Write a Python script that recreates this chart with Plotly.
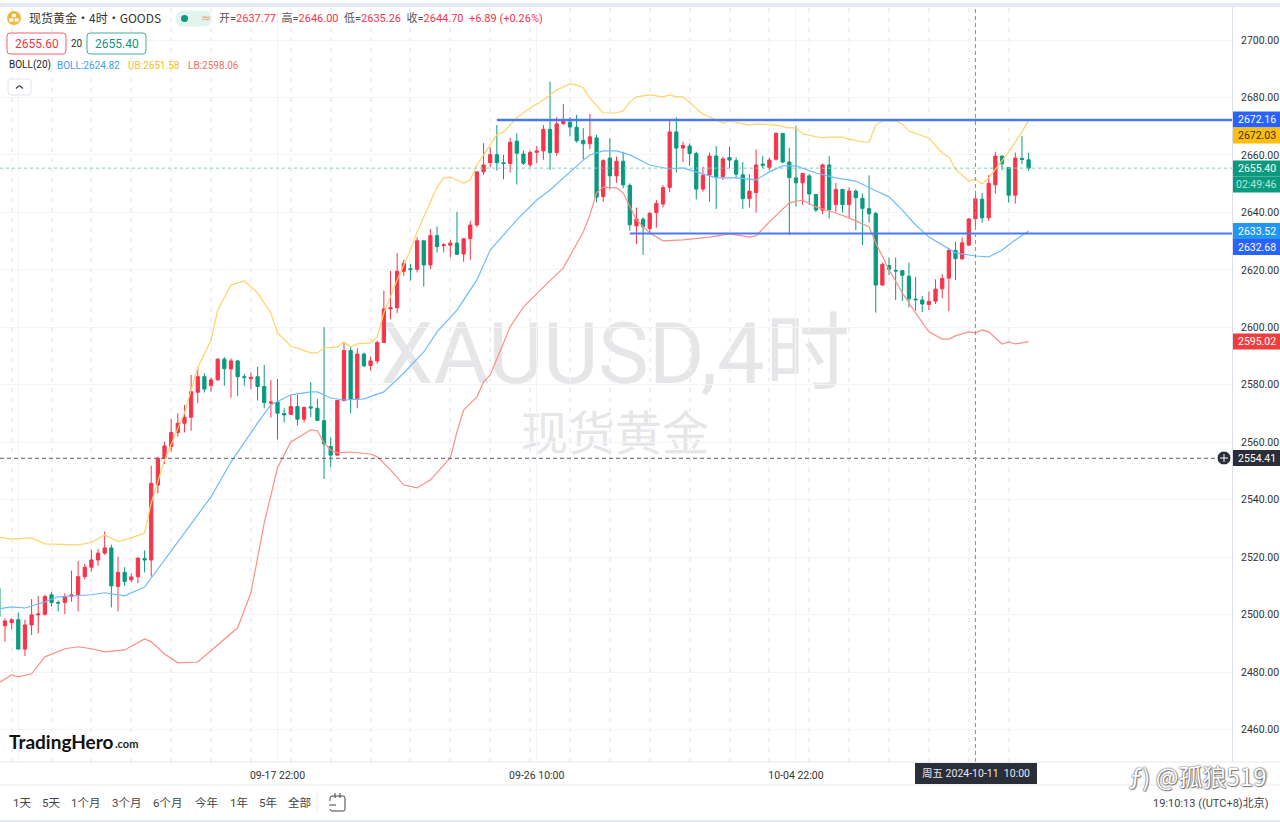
import plotly.graph_objects as go

# XAUUSD 4h candles, oldest first
opens = [2509.2, 2496.1, 2497.2, 2498.2, 2488, 2496.4, 2499.9, 2500.1, 2506.9, 2504.2,
         2504.2, 2506.3, 2506.9, 2513.2, 2516.5, 2519, 2521.4, 2523.2, 2509.8, 2514.7,
         2512.1, 2513.2, 2519.5, 2519, 2545.1, 2554.4, 2558.5, 2563.4, 2566.6, 2568.7,
         2577.4, 2582.8, 2579.7, 2581.7, 2588.9, 2585.5, 2588.3, 2582.8, 2582.1, 2582.8,
         2579.4, 2573.6, 2574, 2570, 2569.7, 2572.4, 2568, 2572.3, 2571.8, 2567.5,
         2558.5, 2555.5, 2574.5, 2591.9, 2575, 2590.7, 2586.7, 2588.3, 2594.7, 2606.4,
         2606.8, 2619.5, 2620.4, 2620.2, 2630.1, 2621.7, 2631.9, 2628.4, 2628.6, 2629.3,
         2625.5, 2630.8, 2635.6, 2654.1, 2657.3, 2660.1, 2657.3, 2657, 2664.8, 2660.3,
         2656.6, 2660.9, 2661.4, 2668.9, 2660.8, 2670.9, 2671.4, 2669.6, 2665, 2663.9,
         2665.9, 2645.5, 2658.9, 2652.7, 2657.8, 2649.4, 2635.3, 2637.6, 2634.4, 2639.9,
         2642.9, 2648.7, 2668, 2662.4, 2663.1, 2660.5, 2648.1, 2653, 2659.6, 2652.4,
         2659.1, 2658, 2653.1, 2644.8, 2646.9, 2656.8, 2655.6, 2658.5, 2667.5, 2657.5,
         2652, 2650.3, 2652.7, 2646.2, 2640.8, 2656.5, 2642.7, 2648, 2642.7, 2647.4,
         2644.9, 2641.3, 2639.6, 2614.7, 2621.5, 2619.8, 2619.7, 2617.8, 2609.8, 2609.5,
         2607.9, 2609.1, 2613.4, 2617.1, 2626.8, 2623.8, 2628.6, 2637.77, 2644.6, 2638.1,
         2649.6, 2659.6, 2655.6, 2646, 2658.8, 2658.3]
highs = [2512, 2498.7, 2498.7, 2500.7, 2498.2, 2505.4, 2506.5, 2506.9, 2507.8, 2504.9,
         2507.4, 2515.3, 2518.7, 2517.6, 2522.5, 2522.8, 2528.9, 2524.4, 2520.2, 2516.5,
         2514.4, 2520, 2522.3, 2551.8, 2555, 2560.2, 2568.1, 2570.1, 2573, 2583.4,
         2586.1, 2584, 2582.6, 2589.2, 2589.6, 2589.2, 2588.6, 2583.8, 2584.3, 2586.3,
         2586.9, 2581.7, 2582, 2571.8, 2576.5, 2576.5, 2572.4, 2580.9, 2575.1, 2600,
         2561.7, 2574.7, 2594.9, 2593.3, 2592.7, 2591.2, 2589.8, 2595.4, 2612.8, 2619.6,
         2625.8, 2623.5, 2622.1, 2631.3, 2630.2, 2634.2, 2635.1, 2629.3, 2630.4, 2640.2,
         2631, 2637.1, 2654.2, 2664.1, 2662.6, 2670.4, 2660, 2666, 2667.5, 2661.5,
         2661.5, 2663.1, 2670.4, 2685.5, 2673.1, 2677.7, 2673.1, 2673.9, 2669.3, 2674.3,
         2667, 2658.5, 2665.8, 2659.4, 2661.1, 2650.1, 2641.7, 2638.3, 2640, 2644.3,
         2649.5, 2671.9, 2673.1, 2664.6, 2664, 2661.1, 2655.9, 2660.8, 2663.1, 2659.4,
         2662.9, 2659.1, 2657.5, 2653.3, 2661.9, 2659.6, 2659.1, 2667.8, 2667.6, 2662.5,
         2670.1, 2653.8, 2653.3, 2646.4, 2657, 2659.6, 2650.3, 2648.1, 2648.7, 2648,
         2646.6, 2652.9, 2640.2, 2622.5, 2624.3, 2624.3, 2619.9, 2622.5, 2617.6, 2610.9,
         2612.4, 2616.7, 2618.5, 2627.5, 2629.8, 2631.3, 2638, 2646, 2646.8, 2653,
         2661.1, 2659.7, 2655.7, 2660.8, 2666.6, 2660.8]
lows = [2495, 2490.6, 2494.9, 2487.7, 2485.6, 2492.9, 2493.5, 2499.6, 2502.8, 2501.1,
        2500.2, 2504.5, 2501.1, 2512.3, 2515, 2517, 2520.8, 2502.5, 2501.1, 2510,
        2511.2, 2510.9, 2514.7, 2513.2, 2542.2, 2552.4, 2556.7, 2562, 2563.4, 2564,
        2573.6, 2577.3, 2577.6, 2581.4, 2579.7, 2575.5, 2576.1, 2579.7, 2578.5, 2574.5,
        2571.8, 2568.6, 2561, 2566.9, 2569.6, 2565.8, 2566.8, 2568.7, 2567.4, 2547.2,
        2551.3, 2555.4, 2574.2, 2570.1, 2571.8, 2586.1, 2584.9, 2587.3, 2594.5, 2602.8,
        2604.9, 2617.9, 2616.3, 2619.1, 2614.2, 2620.2, 2626, 2626, 2624.3, 2625.2,
        2622.8, 2623.5, 2634.8, 2653, 2655.7, 2654.5, 2651.5, 2653.9, 2649.7, 2656.5,
        2655.7, 2657.1, 2658.3, 2654.8, 2659.7, 2670.4, 2666.4, 2664.3, 2658.5, 2662,
        2643.4, 2643.7, 2648, 2650.3, 2648.4, 2633.6, 2629, 2625.2, 2632.4, 2634.7,
        2641.7, 2647, 2653.8, 2657.5, 2656.2, 2644.5, 2647.2, 2643.7, 2641.2, 2651.3,
        2655.3, 2651.8, 2641.2, 2641.7, 2639.9, 2655.3, 2654.7, 2658, 2657.1, 2632.1,
        2642, 2642.6, 2642.6, 2640.1, 2639.4, 2637.9, 2640.2, 2639.9, 2637.9, 2633.8,
        2628.6, 2636.4, 2605.1, 2614.4, 2618.2, 2609.5, 2609.2, 2606.9, 2605.8, 2605.3,
        2606, 2608.1, 2610.1, 2605.6, 2616.4, 2623.6, 2628.3, 2635.26, 2636.4, 2637,
        2646.6, 2654.7, 2643.4, 2643.1, 2656.8, 2654.5]
closes = [2499.3, 2497.8, 2498.2, 2488, 2496.4, 2499.9, 2500.2, 2506.3, 2504.2, 2504,
          2506.3, 2506.9, 2513.2, 2516.5, 2519, 2521.4, 2523.2, 2510, 2514.7, 2511.5,
          2513.1, 2519.6, 2519, 2545.7, 2554.4, 2558.7, 2563.4, 2566.6, 2568.7, 2577.6,
          2582.8, 2578.5, 2581.7, 2588.9, 2585.6, 2588.3, 2582.8, 2582.5, 2582.6, 2579.4,
          2573.8, 2574, 2570.1, 2569.5, 2572.4, 2568, 2572.1, 2571.9, 2567.6, 2559.4,
          2555.5, 2574.5, 2591.9, 2575, 2590.7, 2586.6, 2588.3, 2594.7, 2606.4, 2606.8,
          2619.5, 2622.3, 2620.1, 2630.1, 2621.7, 2631.9, 2628.1, 2628.7, 2629.3, 2625.4,
          2630.8, 2635.6, 2654.1, 2656.5, 2660.1, 2657.3, 2657, 2664.4, 2660.6, 2657.1,
          2660.8, 2661.4, 2668.9, 2660.8, 2670.8, 2672.2, 2669.7, 2664.9, 2663.9, 2666.3,
          2645.3, 2658, 2652.7, 2657.8, 2649.6, 2635.7, 2637.7, 2635, 2639.7, 2643.1,
          2648.6, 2668, 2662.4, 2663.3, 2660.5, 2648.1, 2652.9, 2659.6, 2652.4, 2658.6,
          2658.2, 2653.3, 2644.8, 2647.4, 2656.5, 2656.4, 2658.2, 2667.5, 2657.5, 2652.1,
          2650.3, 2653.5, 2646.4, 2640.8, 2656.5, 2641, 2648, 2642.7, 2647.4, 2645.1,
          2641.4, 2639.5, 2614.7, 2621.9, 2620.2, 2619.6, 2618.1, 2609.9, 2609.6, 2608.1,
          2609, 2613.3, 2617, 2626.8, 2623.9, 2629.4, 2637.7, 2644.7, 2638.1, 2650.1,
          2659.6, 2656.9, 2646, 2658.9, 2658.4, 2655.4]

# Bollinger lines: candle number / price pairs where the line changes direction
ub_idx = [0, 2, 5, 7, 12, 14, 16, 18, 20, 22, 23, 25, 28, 30, 32, 33, 35, 37, 39, 41, 42, 44, 47, 48, 49,
          51, 52, 53, 54, 56, 57, 58, 60, 62, 63, 64, 66, 67, 68, 70, 71, 72, 74, 75, 76, 78, 80, 82, 84, 86,
          87, 88, 89, 91, 93, 94, 95, 96, 98, 100, 101, 102, 103, 104, 106, 107, 109, 110, 113, 114, 117, 119,
          120, 121, 124, 125, 127, 128, 130, 131, 132, 133, 135, 136, 137, 140, 142, 143, 144, 146, 147, 148,
          149, 152, 154, 155]
ub_val = [2527, 2526.3, 2526.7, 2524.6, 2524.3, 2525.1, 2527.7, 2525.4, 2526.7, 2528.4, 2538.9, 2553.8, 2570.2,
          2585.9, 2595.6, 2606, 2614.7, 2616.1, 2612, 2605, 2598, 2593.5, 2591.1, 2591.1, 2592.8, 2593.2, 2594.9,
          2593.2, 2594.2, 2594.6, 2596.6, 2605, 2616.5, 2626.9, 2633.2, 2638.4, 2648.8, 2652, 2652.3, 2650.2,
          2651.3, 2656.5, 2663.5, 2667, 2668, 2672.9, 2676.3, 2679.1, 2682.6, 2684.7, 2684.3, 2683.3, 2679.8,
          2674.6, 2674.6, 2675.3, 2678.4, 2680.2, 2680.9, 2680.2, 2680.9, 2680.2, 2680.2, 2678.1, 2674.2, 2673.2,
          2671.1, 2671.8, 2670.4, 2670.8, 2670.4, 2669.4, 2669.4, 2667.3, 2665.9, 2666.2, 2666.2, 2665.5, 2664.5,
          2664.5, 2670.4, 2671.8, 2671.8, 2670.8, 2668.3, 2665.9, 2660.7, 2659.3, 2655.1, 2650.9, 2651.58, 2649.9,
          2652, 2661, 2668, 2672.03]
mid_idx = [0, 2, 4, 7, 9, 12, 14, 16, 19, 22, 25, 28, 32, 35, 39, 41, 44, 47, 48, 50, 52, 55, 58, 61, 64, 66, 69,
           72, 74, 78, 81, 83, 86, 88, 89, 91, 93, 95, 98, 101, 103, 105, 108, 111, 114, 116, 118, 120, 123, 126,
           129, 132, 134, 136, 138, 140, 142, 144, 147, 149, 151, 153, 155]
mid_val = [2502, 2502.7, 2502.3, 2504.4, 2506.2, 2506.5, 2506.9, 2507.6, 2506.5, 2509.6, 2519, 2528.4, 2541, 2553.1,
           2566.7, 2573, 2576.5, 2577.5, 2577.5, 2575.4, 2574.7, 2575.1, 2577.5, 2584.1, 2591.4, 2598.4, 2606, 2616.5,
           2626.9, 2637.4, 2644.3, 2647.8, 2654.1, 2658.2, 2660, 2661.4, 2661.4, 2660, 2656.5, 2655.1, 2655.5, 2654.1,
           2652, 2652, 2651.3, 2654.1, 2656.2, 2656.2, 2653.7, 2652, 2650.9, 2647.5, 2645.4, 2640.8, 2635.6, 2631.4,
           2628.7, 2625.9, 2624.82, 2624.5, 2626.9, 2630.4, 2633.52]
lb_idx = [0, 2, 3, 5, 7, 10, 12, 14, 16, 19, 22, 23, 25, 27, 30, 32, 34, 36, 38, 40, 42, 44, 47, 48, 49, 50, 51, 53,
          56, 57, 59, 61, 63, 65, 68, 69, 70, 72, 73, 74, 77, 79, 82, 85, 88, 89, 90, 91, 93, 94, 96, 98, 100, 103,
          107, 110, 113, 114, 116, 119, 121, 123, 126, 128, 131, 132, 134, 136, 138, 140, 142, 143, 144, 146, 147,
          148, 149, 151, 152, 153, 154, 155]
lb_val = [2476.2, 2479, 2478.3, 2479.4, 2485.3, 2488.1, 2488.8, 2488.1, 2487, 2487.7, 2491.5, 2490.5, 2486.3, 2483.2,
          2483.5, 2487.4, 2491.2, 2495.4, 2507.6, 2531.9, 2551.1, 2560.1, 2564.3, 2564, 2559.8, 2557.3, 2556.3, 2556.6,
          2555.9, 2554.9, 2550.4, 2545.1, 2544.1, 2546.9, 2554.5, 2563.6, 2571.2, 2575.8, 2581, 2583.4, 2600.1, 2607.1,
          2614, 2620.7, 2633.2, 2639.1, 2646.8, 2648.8, 2648.5, 2646.8, 2637.4, 2632.8, 2630.1, 2630.4, 2631.4, 2632.5,
          2631.4, 2631.8, 2636.7, 2643.3, 2644.3, 2641.9, 2639.8, 2638.1, 2634.9, 2629.4, 2620, 2612, 2605, 2598.4,
          2595.9, 2595.9, 2597, 2598.4, 2598.06, 2599.1, 2598.4, 2594.2, 2594.9, 2594.2, 2594.6, 2595.02]

# axis labels
price_ticks = [2460, 2480, 2500, 2520, 2540, 2560, 2580, 2600, 2620, 2640, 2660, 2680, 2700]
date_idx = [3, 42, 81, 120]
date_labels = ["09-09 10:00", "09-17 22:00", "09-26 10:00", "10-04 22:00"]

# levels drawn on the chart
resistance = 2672.16
support = 2632.68
last_price = 2655.40
cursor_price = 2554.41
cursor_idx = 147
resistance_start = 75
support_start = 95

W, H = 1280, 822
RED = "#f6354a"
GREEN = "#0a9a7e"
BLUE = "#4a78f5"
TXT = "#333333"
FONT = "Roboto, Noto Sans CJK SC, sans-serif"
CJK = "Noto Sans CJK SC, sans-serif"


def px(x):
    return x / W


def py(y):
    return 1 - y / H


fig = go.Figure()
fig.add_trace(go.Candlestick(x=list(range(len(opens))), open=opens, high=highs, low=lows, close=closes,
                             increasing=dict(line=dict(color=RED, width=1), fillcolor=RED),
                             decreasing=dict(line=dict(color=GREEN, width=1), fillcolor=GREEN),
                             whiskerwidth=0, hoverinfo="skip", showlegend=False))
fig.add_trace(go.Scatter(x=ub_idx, y=ub_val, mode="lines", line=dict(color="#ffd366", width=1.2), hoverinfo="skip"))
fig.add_trace(go.Scatter(x=mid_idx, y=mid_val, mode="lines", line=dict(color="#6fbaff", width=1.2), hoverinfo="skip"))
fig.add_trace(go.Scatter(x=lb_idx, y=lb_val, mode="lines", line=dict(color="#fb8f85", width=1.2), hoverinfo="skip"))
fig.add_trace(go.Scatter(x=[resistance_start, 186], y=[resistance, resistance], mode="lines",
                         line=dict(color=BLUE, width=2.4), hoverinfo="skip"))
fig.add_trace(go.Scatter(x=[support_start, 186], y=[support, support], mode="lines",
                         line=dict(color=BLUE, width=2), hoverinfo="skip"))

shapes = []
annots = []


def text(x, y, s, size=11, color=TXT, anchor="left", family=FONT, **kw):
    annots.append(dict(x=px(x), y=py(y), xref="paper", yref="paper", text=s, showarrow=False, xanchor=anchor,
                       yanchor="middle", font=dict(family=family, size=size, color=color), **kw))


def rect(x0, y0, x1, y1, fill, line=None, layer="above", width=1):
    shapes.append(dict(type="rect", xref="paper", yref="paper", x0=px(x0), x1=px(x1), y0=py(y0), y1=py(y1),
                       fillcolor=fill, line=dict(color=line, width=width if line else 0), layer=layer))


def round_box(x0, y0, x1, y1, r, line, fill="white"):
    a, b, c, d = px(x0), px(x1), py(y0), py(y1)
    rx, ry = r / W, r / H
    path = (f"M{a + rx},{c} L{b - rx},{c} Q{b},{c} {b},{c - ry} L{b},{d + ry} Q{b},{d} {b - rx},{d} "
            f"L{a + rx},{d} Q{a},{d} {a},{d + ry} L{a},{c - ry} Q{a},{c} {a + rx},{c} Z")
    shapes.append(dict(type="path", xref="paper", yref="paper", path=path, fillcolor=fill,
                       line=dict(color=line, width=1), layer="above"))


def segment(x0, y0, x1, y1, color, width=1, dash="solid"):
    shapes.append(dict(type="line", xref="paper", yref="paper", x0=px(x0), x1=px(x1), y0=py(y0), y1=py(y1),
                       line=dict(color=color, width=width, dash=dash), layer="above"))


def badge(y, s, fill, color="white"):
    rect(1233, y - 8, 1280, y + 8, fill)
    text(1256.5, y, s, size=10.5, color=color, anchor="center")


# watermarks behind the candles
shapes.append(dict(type="rect", xref="paper", yref="paper", x0=px(330), x1=px(900), y0=py(300), y1=py(395),
                   line=dict(width=0), fillcolor="rgba(0,0,0,0)", layer="below",
                   label=dict(text="XAUUSD,4时", font=dict(family=FONT, size=85, color="#e6e6e8"),
                              textposition="middle center")))
shapes.append(dict(type="rect", xref="paper", yref="paper", x0=px(480), x1=px(750), y0=py(405), y1=py(470),
                   line=dict(width=0), fillcolor="rgba(0,0,0,0)", layer="below",
                   label=dict(text="现货黄金", font=dict(family=CJK, size=47, color="#e6e6e8"),
                              textposition="middle center")))

# price levels and cursor
shapes.append(dict(type="line", xref="paper", yref="y", x0=0, x1=px(1232), y0=last_price, y1=last_price,
                   line=dict(color="#7fcbbb", width=1, dash="dot"), layer="above"))
shapes.append(dict(type="line", xref="paper", yref="y", x0=0, x1=px(1217), y0=cursor_price, y1=cursor_price,
                   line=dict(color="#555a63", width=1, dash="4px,3px"), layer="above"))
shapes.append(dict(type="line", xref="x", yref="paper", x0=cursor_idx, x1=cursor_idx, y0=py(762), y1=py(5),
                   line=dict(color="#8a8d94", width=1, dash="4px,3px"), layer="above"))

# window chrome
rect(0, 3, W, 7, "#e6e8f2")
segment(0, 762, W, 762, "#e6e8f1")
segment(0, 785, W, 785, "#e6e8f1")
rect(0, 820, W, H, "#e6e8f2")
segment(1232.5, 7, 1232.5, 762, "#dcdfea")
segment(317, 791, 317, 812, "#eceef3")

# header
shapes.append(dict(type="circle", xref="paper", yref="paper", x0=px(7), x1=px(21), y0=py(11), y1=py(25),
                   fillcolor="#f0b93a", line=dict(width=0), layer="above"))
for cx, cy in [(14, 15.5), (11.3, 20), (16.7, 20)]:
    rect(cx - 2, cy - 1.6, cx + 2, cy + 1.6, "white")
text(27, 18, "现货黄金・4时・GOODS", size=12, color="#333333", family=CJK)
round_box(176, 11, 211, 26, 7, "#e2f4f0", "#e2f4f0")
shapes.append(dict(type="circle", xref="paper", yref="paper", x0=px(181), x1=px(188), y0=py(15), y1=py(22),
                   fillcolor="#0a9a7e", line=dict(width=0), layer="above"))
text(199, 18, "≈", size=12, color="#f59a6c", anchor="left", family="DejaVu Sans")


def red(s):
    return f'<span style="color:{RED}">{s}</span>'


text(217, 18, "开=" + red("2637.77") + "  高=" + red("2646.00") + "  低=" + red("2635.26") + "  收=" + red("2644.70")
     + "  " + red("+6.89 (+0.26%)"), size=11, color="#555555", family=FONT)
round_box(7, 33, 66, 54, 3, "#f6606f")
text(36.5, 43.5, "2655.60", size=12, color="#f23645", anchor="center")
text(76.5, 43.5, "20", size=10, anchor="center")
round_box(87, 33, 146, 54, 3, "#3fae98")
text(116.5, 43.5, "2655.40", size=12, color="#12957c", anchor="center")
text(7, 65.5, "BOLL(20)", size=10, color="#222222")
text(55, 65.5, "BOLL:2624.82", size=10, color="#3d9df0")
text(126, 65.5, "UB:2651.58", size=10, color="#f5bd20")
text(186, 65.5, "LB:2598.06", size=10, color="#f0705f")
round_box(8, 79, 31, 95, 3, "#e2e4ee")
segment(16, 88.5, 19.5, 85.5, "#444444", 1.2)
segment(19.5, 85.5, 23, 88.5, "#444444", 1.2)

# axis badges
badge(119.5, "2672.16", "#2962ff")
badge(135.5, "2672.03", "#ffbe0b", "#333333")
badge(168.5, "2655.40", "#0a9a7e")
badge(184.5, "02:49:46", "#0a9a7e", "#b8e6dc")
badge(231, "2633.52", "#2196f3")
badge(247, "2632.68", "#2962ff")
badge(341.5, "2595.02", "#f23d3d")
badge(458, "2554.41", "#2a2e39")
shapes.append(dict(type="circle", xref="paper", yref="paper", x0=px(1217), x1=px(1231), y0=py(451), y1=py(465),
                   fillcolor="#2a2e39", line=dict(color="#ffffff", width=1), layer="above"))
segment(1220, 458, 1228, 458, "white")
segment(1224, 454, 1224, 462, "white")

# logo
text(7, 741, "<b>TradingHero</b>", size=19, color="#111111", family="Lato, sans-serif")
text(113, 743.5, "<b>.com</b>", size=11, color="#222222", family="Lato, sans-serif")

# cursor date
rect(915, 763, 1037, 784, "#2a2e39")
text(976, 773.5, "周五 2024-10-11  10:00", size=10.5, color="#e8e9ee", anchor="center", family=FONT)

# bottom toolbar
for x, s in [(11, "1天"), (40, "5天"), (69, "1个月"), (110, "3个月"), (151, "6个月"), (193, "今年"), (228, "1年"),
             (257, "5年"), (286, "全部")]:
    text(x, 803, s, size=11.5, color="#444444", family=FONT)
round_box(330, 796, 345, 811, 2, "#444444")
segment(335, 793, 335, 798, "#444444")
segment(340, 793, 340, 798, "#444444")
rect(327, 801, 333, 809, "white")
segment(329, 805, 336, 805, "#444444")
text(1271, 803, "19:10:13 ((UTC+8)北京)", size=11, color="#444444", anchor="right", family=FONT)

# weibo mark
shapes.append(dict(type="circle", xref="paper", yref="paper", x0=px(1254), x1=px(1268), y0=py(767), y1=py(782),
                   fillcolor="#dcdde6", line=dict(width=0), layer="above"))
annots.append(dict(x=px(1268), y=py(775), xref="paper", yref="paper", text="ƒ) @孤狼519", showarrow=False,
                   xanchor="right", yanchor="middle",
                   font=dict(family=CJK, size=24, color="white",
                             shadow="0 0 1px #555, 0 0 2px #666, 1px 1px 1px #888")))

grid_idx = list(range(2, 153, 6))
fig.update_layout(
    width=W, height=H, margin=dict(l=0, r=0, t=0, b=0), paper_bgcolor="white", plot_bgcolor="white",
    showlegend=False, hovermode=False, boxgap=0.3, shapes=shapes, annotations=annots,
    font=dict(family=FONT, size=10.5, color=TXT),
    xaxis=dict(domain=[0, 1232 / W], range=[0.248, 185.6], rangeslider=dict(visible=False), tickmode="array",
               tickvals=date_idx, ticktext=date_labels, showgrid=True, gridcolor="#f3f4f8", gridwidth=1, ticks="",
               showline=False, zeroline=False, ticklabelstandoff=5, tickfont=dict(size=10.5, color=TXT),
               minor=dict(tickmode="array", tickvals=grid_idx, showgrid=True, gridcolor="#eff0f5", griddash="4px,6px",
                          gridwidth=1.5, ticks="")),
    yaxis=dict(domain=[py(762), py(8)], range=[2448.69, 2711.14], side="right", tickmode="array",
               tickvals=price_ticks, tickformat=".2f", showgrid=True, gridcolor="#f3f4f8", gridwidth=1, ticks="",
               showline=False, zeroline=False, ticklabelstandoff=8, tickfont=dict(size=10.5, color=TXT)),
)

fig.write_html("out.html", config={"displayModeBar": False},
               post_script="document.body.style.margin='0';document.body.style.overflow='hidden';")
